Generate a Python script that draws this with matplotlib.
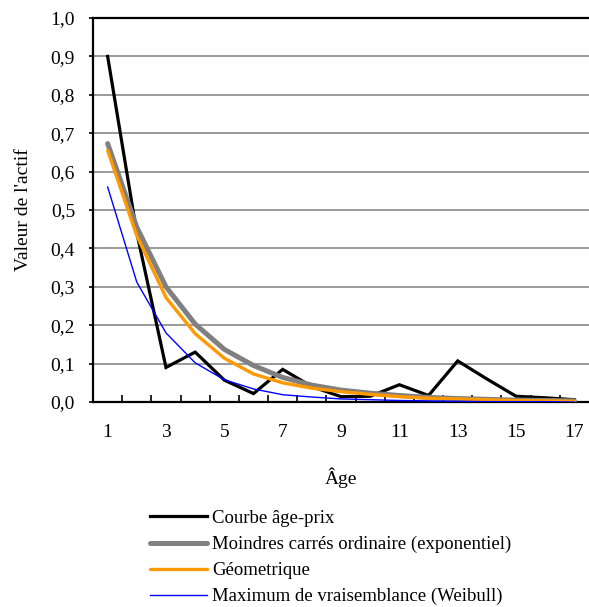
import matplotlib
matplotlib.use("Agg")
import matplotlib.pyplot as plt
from matplotlib.ticker import MultipleLocator, FuncFormatter

plt.rcParams['font.family'] = ['Liberation Serif', 'DejaVu Serif']

ages = list(range(1, 18))
age_ticks = [1, 3, 5, 7, 9, 11, 13, 15, 17]

courbe_age_prix = [0.90, 0.44, 0.09, 0.13, 0.057, 0.022, 0.085, 0.040, 0.014,
                   0.015, 0.045, 0.017, 0.107, 0.060, 0.015, 0.011, 0.006]
moindres_carres = [0.673, 0.455, 0.300, 0.203, 0.137, 0.095, 0.064, 0.044, 0.031,
                   0.023, 0.017, 0.012, 0.009, 0.007, 0.005, 0.004, 0.003]
geometrique = [0.655, 0.433, 0.272, 0.178, 0.114, 0.073, 0.050, 0.036, 0.027,
               0.020, 0.014, 0.010, 0.008, 0.006, 0.004, 0.003, 0.002]
weibull = [0.560, 0.312, 0.180, 0.102, 0.058, 0.034, 0.019, 0.013, 0.008,
           0.006, 0.004, 0.003, 0.002, 0.001, 0.001, 0.001, 0.000]

labels = ["Courbe âge-prix",
          "Moindres carrés ordinaire (exponentiel)",
          "Géometrique",
          "Maximum de vraisemblance (Weibull)"]

FS = 14
FS_LEG = 13.5

fig = plt.figure(figsize=(5.89, 6.07), dpi=100)
ax = fig.add_axes([0.158, 0.3377, 0.842, 0.6326])

ax.plot(ages, courbe_age_prix, color='black', lw=2.3, label=labels[0], zorder=3,
        solid_joinstyle='miter')
ax.plot(ages, moindres_carres, color='#808080', lw=3.6, label=labels[1], zorder=4,
        solid_capstyle='round')
ax.plot(ages, geometrique, color='#FF9900', lw=2.4, label=labels[2], zorder=5,
        solid_capstyle='round')
ax.plot(ages, weibull, color='#0000FF', lw=1.0, label=labels[3], zorder=6)

ax.set_xlim(0.5, 17.5)
ax.set_ylim(0, 1.0)
ax.yaxis.set_major_locator(MultipleLocator(0.1))
ax.yaxis.set_major_formatter(FuncFormatter(lambda v, p: f"{v:.1f}".replace('.', ',')))
ax.set_xticks(age_ticks)
ax.set_xticks([a + 0.5 for a in ages[:-1]], minor=True)
ax.tick_params(axis='x', which='major', length=0, labelsize=FS, pad=16)
ax.tick_params(axis='x', which='minor', direction='in', length=5, width=1.2)
ax.tick_params(axis='y', which='major', direction='out', length=3, width=1.2,
               labelsize=FS, pad=10)

ax.grid(axis='y', color='#9a9a9a', lw=1.4, zorder=1)
ax.set_axisbelow(True)
for s in ['left', 'bottom', 'top']:
    ax.spines[s].set_linewidth(1.6)
    ax.spines[s].set_color('black')
ax.spines['right'].set_visible(False)

ax.set_xlabel("Âge", fontsize=FS, labelpad=19)
ax.set_ylabel("Valeur de l'actif", fontsize=FS, labelpad=13)

handles, lbls = ax.get_legend_handles_labels()
fig.legend(handles, lbls, loc='upper left', bbox_to_anchor=(0.2547, 0.160),
           frameon=False, fontsize=FS_LEG, handlelength=3.05, handletextpad=0.27,
           labelspacing=0.47, borderpad=0, borderaxespad=0)

fig.savefig("out.png", dpi=100)
